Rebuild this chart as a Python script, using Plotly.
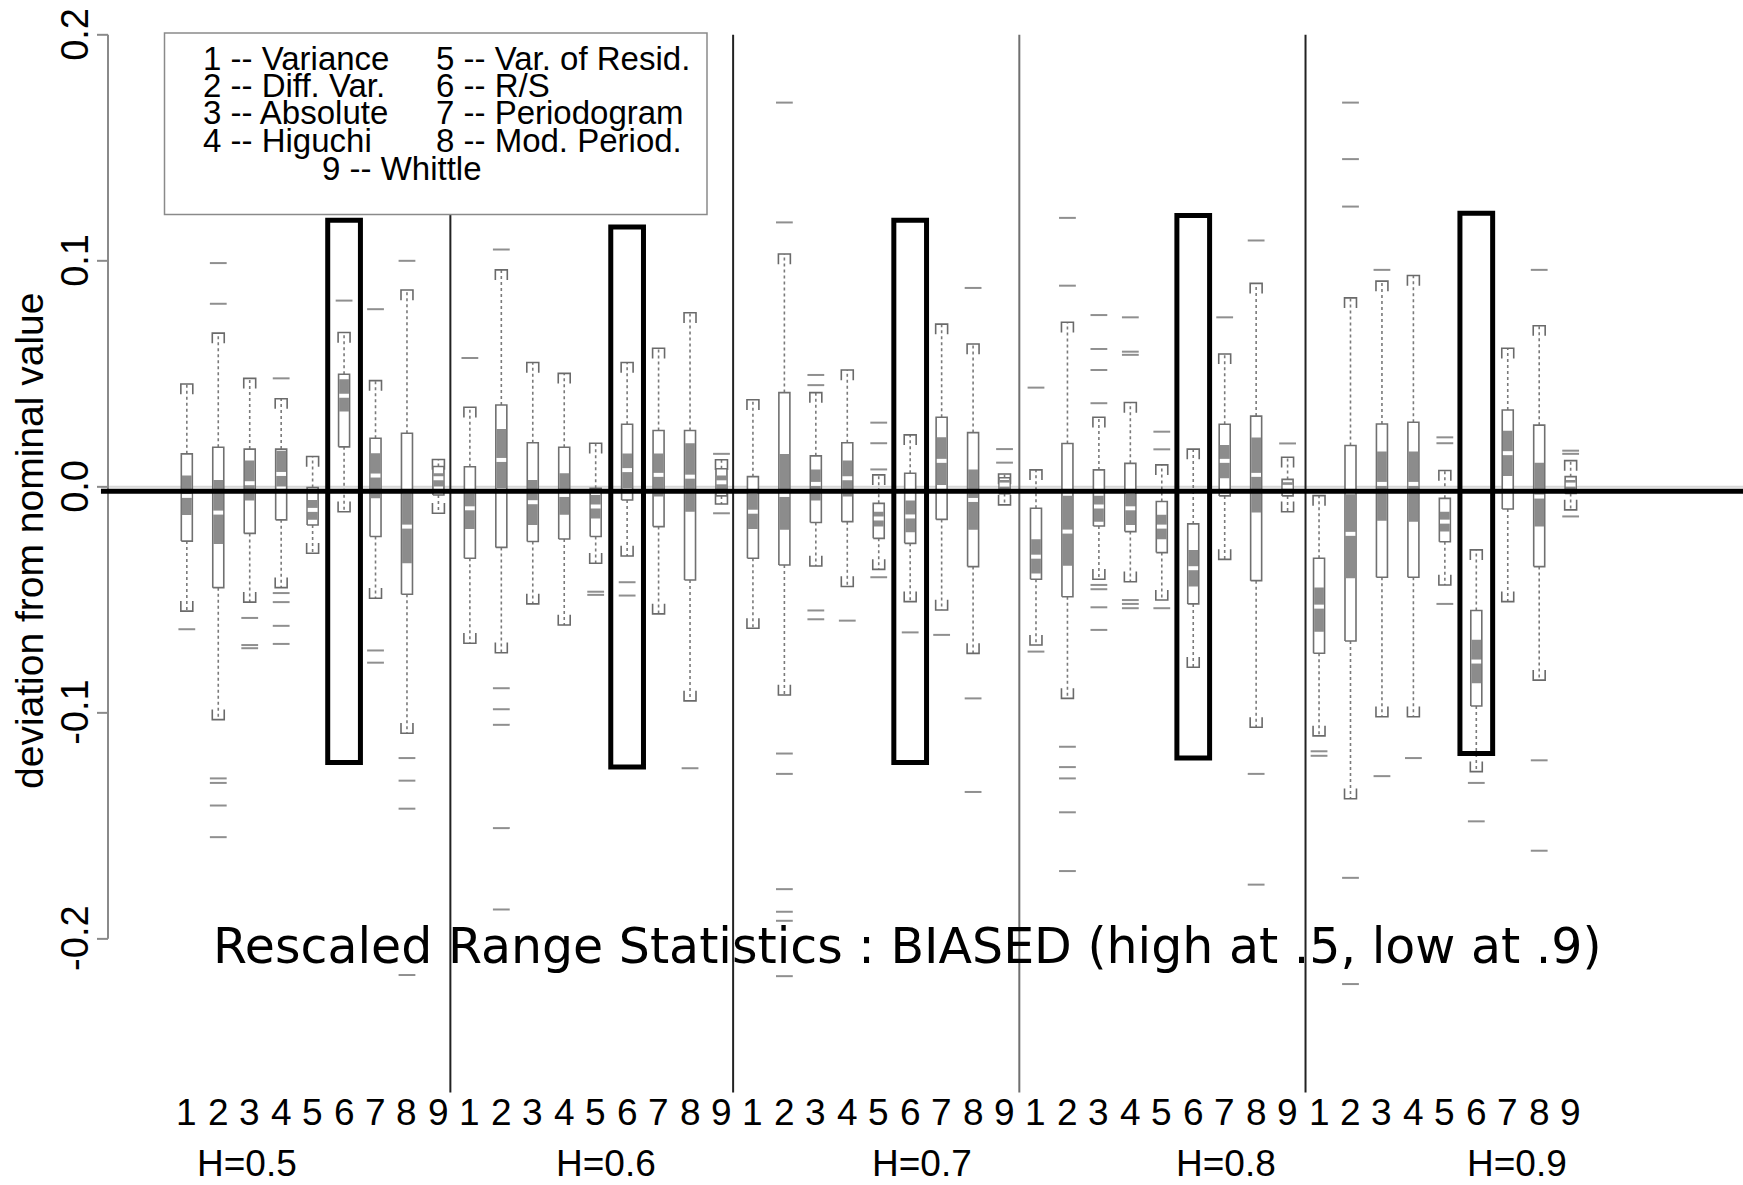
import plotly.graph_objects as go

W, H = 1743, 1185

# ---------------- data ----------------
ESTIMATOR_TICKS = ["1", "2", "3", "4", "5", "6", "7", "8", "9"]
H_LABELS = ["H=0.5", "H=0.6", "H=0.7", "H=0.8", "H=0.9"]
H_LABEL_POS = [2.91, 14.32, 24.36, 34.05, 43.3]
Y_TICKS = [-0.2, -0.1, 0.0, 0.1, 0.2]
Y_TICK_TEXT = ["-0.2", "-0.1", "0.0", "0.1", "0.2"]
SEPARATORS = [9.38, 18.37, 27.47, 36.57]
SEPARATOR_COLORS = ["#222222", "#222222", "#707070", "#222222"]
HIGHLIGHT_TOP = [0.118, 0.115, 0.118, 0.120, 0.121]
HIGHLIGHT_BOTTOM = [-0.122, -0.124, -0.122, -0.120, -0.118]
LEGEND_COL1 = ["1 -- Variance", "2 -- Diff. Var.", "3 -- Absolute", "4 -- Higuchi"]
LEGEND_COL2 = ["5 -- Var. of Resid.", "6 -- R/S", "7 -- Periodogram", "8 -- Mod. Period."]
LEGEND_LAST = "9 -- Whittle"
TITLE = "Rescaled Range Statistics : BIASED (high at .5, low at .9)"
Y_TITLE = "deviation from nominal value"

# H = 0.5
h05_wlo = [-0.055, -0.103, -0.051, -0.0446, -0.0294, -0.011, -0.0493, -0.109, -0.0117]
h05_q1 = [-0.024, -0.0446, -0.0206, -0.0146, -0.0169, 0.0177, -0.022, -0.0475, -0.0036]
h05_nlo = [-0.0125, -0.0253, -0.006, 0.0001, -0.0146, 0.0333, -0.005, -0.0338, 0.0001]
h05_med = [-0.004, -0.0114, 0.0016, 0.0057, -0.0102, 0.0403, 0.005, -0.0176, 0.0038]
h05_nhi = [0.005, 0.003, 0.0116, 0.016, -0.0058, 0.0476, 0.0149, -0.0028, 0.006]
h05_q3 = [0.0146, 0.0175, 0.0167, 0.0167, -0.0003, 0.0498, 0.0215, 0.0237, 0.009]
h05_whi = [0.0455, 0.068, 0.048, 0.039, 0.0134, 0.0683, 0.047, 0.0871, 0.0121]
h05_out = [[-0.063], [0.081, 0.099, -0.129, -0.131, -0.141, -0.155],
           [-0.058, -0.070, -0.0714], [0.048, -0.047, -0.051, -0.0615, -0.0695],
           [], [0.0824], [0.0786, -0.0724, -0.0778],
           [0.100, -0.120, -0.130, -0.1424, -0.216], []]

# H = 0.6
h06_wlo = [-0.0692, -0.0734, -0.0518, -0.0611, -0.0338, -0.0306, -0.0562, -0.0947, -0.0076]
h06_q1 = [-0.0316, -0.0268, -0.0242, -0.0231, -0.022, -0.0058, -0.0176, -0.0412, -0.004]
h06_nlo = [-0.0187, -0.0006, -0.0169, -0.0124, -0.014, -0.0006, -0.0043, -0.011, -0.001]
h06_med = [-0.0095, 0.0119, -0.0068, -0.0036, -0.0087, 0.0074, 0.0053, 0.0045, 0.002]
h06_nhi = [-0.0028, 0.0256, 0.003, 0.006, -0.0036, 0.0148, 0.0148, 0.0193, 0.005]
h06_q3 = [0.0089, 0.0362, 0.0195, 0.0175, -0.0006, 0.0277, 0.0249, 0.0249, 0.008]
h06_whi = [0.0352, 0.096, 0.055, 0.0502, 0.0193, 0.055, 0.0613, 0.077, 0.012]
h06_out = [[0.057], [0.105, -0.0891, -0.0984, -0.1053, -0.151, -0.187],
           [], [], [-0.0464, -0.0478], [-0.0422, -0.0481], [], [-0.1245],
           [0.0146, -0.0117]]

# H = 0.7
h07_wlo = [-0.0626, -0.0921, -0.035, -0.0441, -0.0365, -0.0508, -0.0545, -0.0737, -0.008]
h07_q1 = [-0.0316, -0.0346, -0.0158, -0.0154, -0.0228, -0.025, -0.0144, -0.0353, -0.003]
h07_nlo = [-0.0187, -0.019, -0.0061, -0.0043, -0.0176, -0.0201, 0.0008, -0.019, -0.001]
h07_med = [-0.011, -0.0036, 0.0013, 0.0038, -0.014, -0.0131, 0.0115, -0.0058, 0.001]
h07_nhi = [-0.0032, 0.0145, 0.0077, 0.0116, -0.011, -0.0061, 0.0219, 0.0077, 0.003]
h07_q3 = [0.0045, 0.0417, 0.0137, 0.0195, -0.0073, 0.006, 0.0308, 0.024, 0.004]
h07_whi = [0.0385, 0.103, 0.0417, 0.0517, 0.0053, 0.023, 0.072, 0.0632, 0.0057]
h07_out = [[], [0.117, 0.170, -0.118, -0.127, -0.178, -0.188, -0.192, -0.2165],
           [0.045, 0.0495, -0.0547, -0.0586], [-0.0592],
           [0.0077, 0.0193, 0.0284, -0.04], [-0.0644], [-0.0655],
           [0.088, -0.0936, -0.135], [0.0107, 0.0167]]

# H = 0.8
h08_wlo = [-0.07, -0.0936, -0.0409, -0.042, -0.0501, -0.0798, -0.0321, -0.1064, -0.011]
h08_q1 = [-0.0409, -0.0486, -0.0173, -0.0198, -0.0291, -0.0518, -0.004, -0.0415, -0.004]
h08_nlo = [-0.0383, -0.0349, -0.0154, -0.0169, -0.0232, -0.0441, 0.0038, -0.0114, -0.002]
h08_med = [-0.0309, -0.0198, -0.0087, -0.0095, -0.0176, -0.036, 0.0115, 0.0053, 0.0]
h08_nhi = [-0.0232, -0.0039, -0.0039, -0.0032, -0.0124, -0.0279, 0.0185, 0.0218, 0.002]
h08_q3 = [-0.0095, 0.0192, 0.0075, 0.0104, -0.0065, -0.0164, 0.0277, 0.0313, 0.0033]
h08_whi = [0.0075, 0.0728, 0.0308, 0.0373, 0.0097, 0.0167, 0.0588, 0.09, 0.0131]
h08_out = [[0.0439, -0.0729],
           [0.089, 0.119, -0.115, -0.124, -0.129, -0.144, -0.170],
           [0.037, 0.0517, 0.061, 0.076, -0.0434, -0.0453, -0.0533, -0.0633],
           [0.0584, 0.0598, 0.075, -0.0501, -0.0518, -0.0537],
           [0.0166, 0.0244, -0.0537], [], [0.075],
           [0.109, -0.127, -0.176], [0.0192]]

# H = 0.9
h09_wlo = [-0.1102, -0.138, -0.1017, -0.1017, -0.0434, -0.126, -0.0508, -0.0855, -0.0102]
h09_q1 = [-0.0736, -0.0682, -0.04, -0.04, -0.0243, -0.097, -0.0098, -0.0353, -0.0029]
h09_nlo = [-0.0641, -0.0405, -0.015, -0.0154, -0.0198, -0.0869, 0.0048, -0.0176, -0.001]
h09_med = [-0.053, -0.0208, 0.0013, 0.0013, -0.0154, -0.0773, 0.0149, -0.0043, 0.001]
h09_nhi = [-0.0445, -0.0033, 0.0156, 0.0156, -0.011, -0.0677, 0.0248, 0.0107, 0.003]
h09_q3 = [-0.0316, 0.0183, 0.0278, 0.0286, -0.0051, -0.0547, 0.034, 0.0273, 0.0045]
h09_whi = [-0.0039, 0.0836, 0.091, 0.0935, 0.0072, -0.0279, 0.0613, 0.0713, 0.0116]
h09_out = [[-0.117, -0.119], [0.124, 0.145, 0.170, -0.173, -0.220],
           [0.096, -0.128], [-0.12], [0.0193, 0.0219, -0.0518],
           [-0.131, -0.148], [], [0.096, -0.121, -0.161],
           [0.0146, 0.016, -0.0131]]

GROUPS = [
    (h05_wlo, h05_q1, h05_nlo, h05_med, h05_nhi, h05_q3, h05_whi, h05_out),
    (h06_wlo, h06_q1, h06_nlo, h06_med, h06_nhi, h06_q3, h06_whi, h06_out),
    (h07_wlo, h07_q1, h07_nlo, h07_med, h07_nhi, h07_q3, h07_whi, h07_out),
    (h08_wlo, h08_q1, h08_nlo, h08_med, h08_nhi, h08_q3, h08_whi, h08_out),
    (h09_wlo, h09_q1, h09_nlo, h09_med, h09_nhi, h09_q3, h09_whi, h09_out),
]

# ---------------- geometry / style ----------------
X_RANGE = [-4.94, 50.48]
Y_RANGE = [-0.3089, 0.2154]
BOX_HW = 0.175
INSET = 0.02
CAP_HW = 0.19
CAP_H = 0.0045
HL_HW = 0.52
AXIS_X = -1.506
TICK_X = -1.856
ZERO_LINE_Y = -0.002

SANS = "Liberation Sans, Arial, Helvetica, sans-serif"
TITLE_FONT = "DejaVu Sans, Verdana, sans-serif"

box_x, box_y = [], []
band_x, band_y = [], []
med_x, med_y = [], []
wh_x, wh_y = [], []
cap_x, cap_y = [], []
out_x, out_y = [], []

for g, (wlo, q1, nlo, med, nhi, q3, whi, outs) in enumerate(GROUPS):
    for i in range(9):
        p = g * 9 + i + 1
        l, r = p - BOX_HW, p + BOX_HW
        box_x += [l, r, r, l, l, None]
        box_y += [q1[i], q1[i], q3[i], q3[i], q1[i], None]
        bl, br = l + INSET, r - INSET
        band_x += [bl, br, br, bl, bl, None]
        band_y += [nlo[i], nlo[i], nhi[i], nhi[i], nlo[i], None]
        med_x += [bl, br, None]
        med_y += [med[i], med[i], None]
        wh_x += [p, p, None, p, p, None]
        wh_y += [q3[i], whi[i], None, q1[i], wlo[i], None]
        cl, cr = p - CAP_HW, p + CAP_HW
        cap_x += [cl, cl, cr, cr, None, cl, cl, cr, cr, None]
        cap_y += [whi[i] - CAP_H, whi[i], whi[i], whi[i] - CAP_H, None,
                  wlo[i] + CAP_H, wlo[i], wlo[i], wlo[i] + CAP_H, None]
        for v in outs[i]:
            out_x.append(p)
            out_y.append(v)

fig = go.Figure()
fig.add_trace(go.Scatter(x=wh_x, y=wh_y, mode="lines",
                         line=dict(color="#7a7a7a", width=1.6, dash="dot"),
                         hoverinfo="skip", showlegend=False))
fig.add_trace(go.Scatter(x=cap_x, y=cap_y, mode="lines",
                         line=dict(color="#6a6a6a", width=1.6),
                         hoverinfo="skip", showlegend=False))
fig.add_trace(go.Scatter(x=box_x, y=box_y, mode="lines", fill="toself",
                         fillcolor="white", line=dict(color="#707070", width=1.6),
                         hoverinfo="skip", showlegend=False))
fig.add_trace(go.Scatter(x=band_x, y=band_y, mode="none", fill="toself",
                         fillcolor="#8c8c8c", hoverinfo="skip", showlegend=False))
fig.add_trace(go.Scatter(x=med_x, y=med_y, mode="lines",
                         line=dict(color="white", width=4),
                         hoverinfo="skip", showlegend=False))
fig.add_trace(go.Scatter(x=out_x, y=out_y, mode="markers",
                         marker=dict(symbol="line-ew", size=12,
                                     line=dict(color="#8f8f8f", width=2)),
                         hoverinfo="skip", showlegend=False))

shapes = []
# light reference line at 0
shapes.append(dict(type="line", xref="x", yref="y", x0=AXIS_X, x1=X_RANGE[1],
                   y0=0, y1=0, line=dict(color="#d8d8d8", width=2), layer="below"))
# group separators
for sx, sc in zip(SEPARATORS, SEPARATOR_COLORS):
    shapes.append(dict(type="line", xref="x", yref="y", x0=sx, x1=sx,
                       y0=-0.268, y1=0.2, line=dict(color=sc, width=2)))
# legend box (drawn over the separators)
shapes.append(dict(type="rect", xref="paper", yref="paper",
                   x0=164.5 / W, x1=707 / W, y0=1 - 214.5 / H, y1=1 - 33 / H,
                   line=dict(color="#8a8a8a", width=1.5), fillcolor="white",
                   layer="above"))
# y axis
shapes.append(dict(type="line", xref="x", yref="y", x0=AXIS_X, x1=AXIS_X,
                   y0=Y_TICKS[0], y1=Y_TICKS[-1], line=dict(color="#8a8a8a", width=2)))
for v in Y_TICKS:
    shapes.append(dict(type="line", xref="x", yref="y", x0=TICK_X, x1=AXIS_X,
                       y0=v, y1=v, line=dict(color="#8a8a8a", width=2)))
# highlight rectangles around R/S
for g in range(5):
    c = g * 9 + 6
    shapes.append(dict(type="rect", xref="x", yref="y", x0=c - HL_HW, x1=c + HL_HW,
                       y0=HIGHLIGHT_BOTTOM[g], y1=HIGHLIGHT_TOP[g],
                       line=dict(color="black", width=5), fillcolor="rgba(0,0,0,0)"))
# thick zero line
shapes.append(dict(type="line", xref="x", yref="y", x0=-1.73, x1=X_RANGE[1],
                   y0=ZERO_LINE_Y, y1=ZERO_LINE_Y, line=dict(color="black", width=5)))

ann = []
for v, t in zip(Y_TICKS, Y_TICK_TEXT):
    ann.append(dict(x=-2.555, y=v, xref="x", yref="y", text=t, showarrow=False,
                    textangle=-90, font=dict(family=SANS, size=38, color="black"),
                    xanchor="center", yanchor="middle"))
ann.append(dict(x=29 / W, y=1 - 541 / H, xref="paper", yref="paper", text=Y_TITLE,
                showarrow=False, textangle=-90,
                font=dict(family=SANS, size=39, color="black"),
                xanchor="center", yanchor="middle"))
for g in range(5):
    for i, t in enumerate(ESTIMATOR_TICKS):
        ann.append(dict(x=g * 9 + i + 1, y=1 - 1112 / H, xref="x", yref="paper",
                        text=t, showarrow=False,
                        font=dict(family=SANS, size=37, color="black"),
                        xanchor="center", yanchor="middle"))
for xp, t in zip(H_LABEL_POS, H_LABELS):
    ann.append(dict(x=xp, y=0, xref="x", yref="paper", text=t,
                    showarrow=False, font=dict(family=SANS, size=37, color="black"),
                    xanchor="center", yanchor="bottom", borderpad=0))
leg_y = [58, 85.5, 113, 141]
LEG_SIZE = 33
for t, yy in zip(LEGEND_COL1, leg_y):
    ann.append(dict(x=201 / W, y=1 - yy / H, xref="paper", yref="paper", text=t,
                    showarrow=False, font=dict(family=SANS, size=LEG_SIZE, color="black"),
                    xanchor="left", yanchor="middle"))
for t, yy in zip(LEGEND_COL2, leg_y):
    ann.append(dict(x=434 / W, y=1 - yy / H, xref="paper", yref="paper", text=t,
                    showarrow=False, font=dict(family=SANS, size=LEG_SIZE, color="black"),
                    xanchor="left", yanchor="middle"))
ann.append(dict(x=320 / W, y=1 - 169 / H, xref="paper", yref="paper", text=LEGEND_LAST,
                showarrow=False, font=dict(family=SANS, size=LEG_SIZE, color="black"),
                xanchor="left", yanchor="middle"))
ann.append(dict(x=907 / W, y=1 - 946 / H, xref="paper", yref="paper", text=TITLE,
                showarrow=False, font=dict(family=TITLE_FONT, size=49, color="black"),
                xanchor="center", yanchor="middle"))

fig.update_layout(
    width=W, height=H,
    margin=dict(l=0, r=0, t=0, b=0),
    paper_bgcolor="white", plot_bgcolor="white",
    xaxis=dict(range=X_RANGE, showgrid=False, zeroline=False, showticklabels=False,
               showline=False, ticks=""),
    yaxis=dict(range=Y_RANGE, showgrid=False, zeroline=False, showticklabels=False,
               showline=False, ticks=""),
    shapes=shapes, annotations=ann, showlegend=False,
)

fig.write_html("out.html", include_plotlyjs=True, full_html=True,
               config=dict(displayModeBar=False))
